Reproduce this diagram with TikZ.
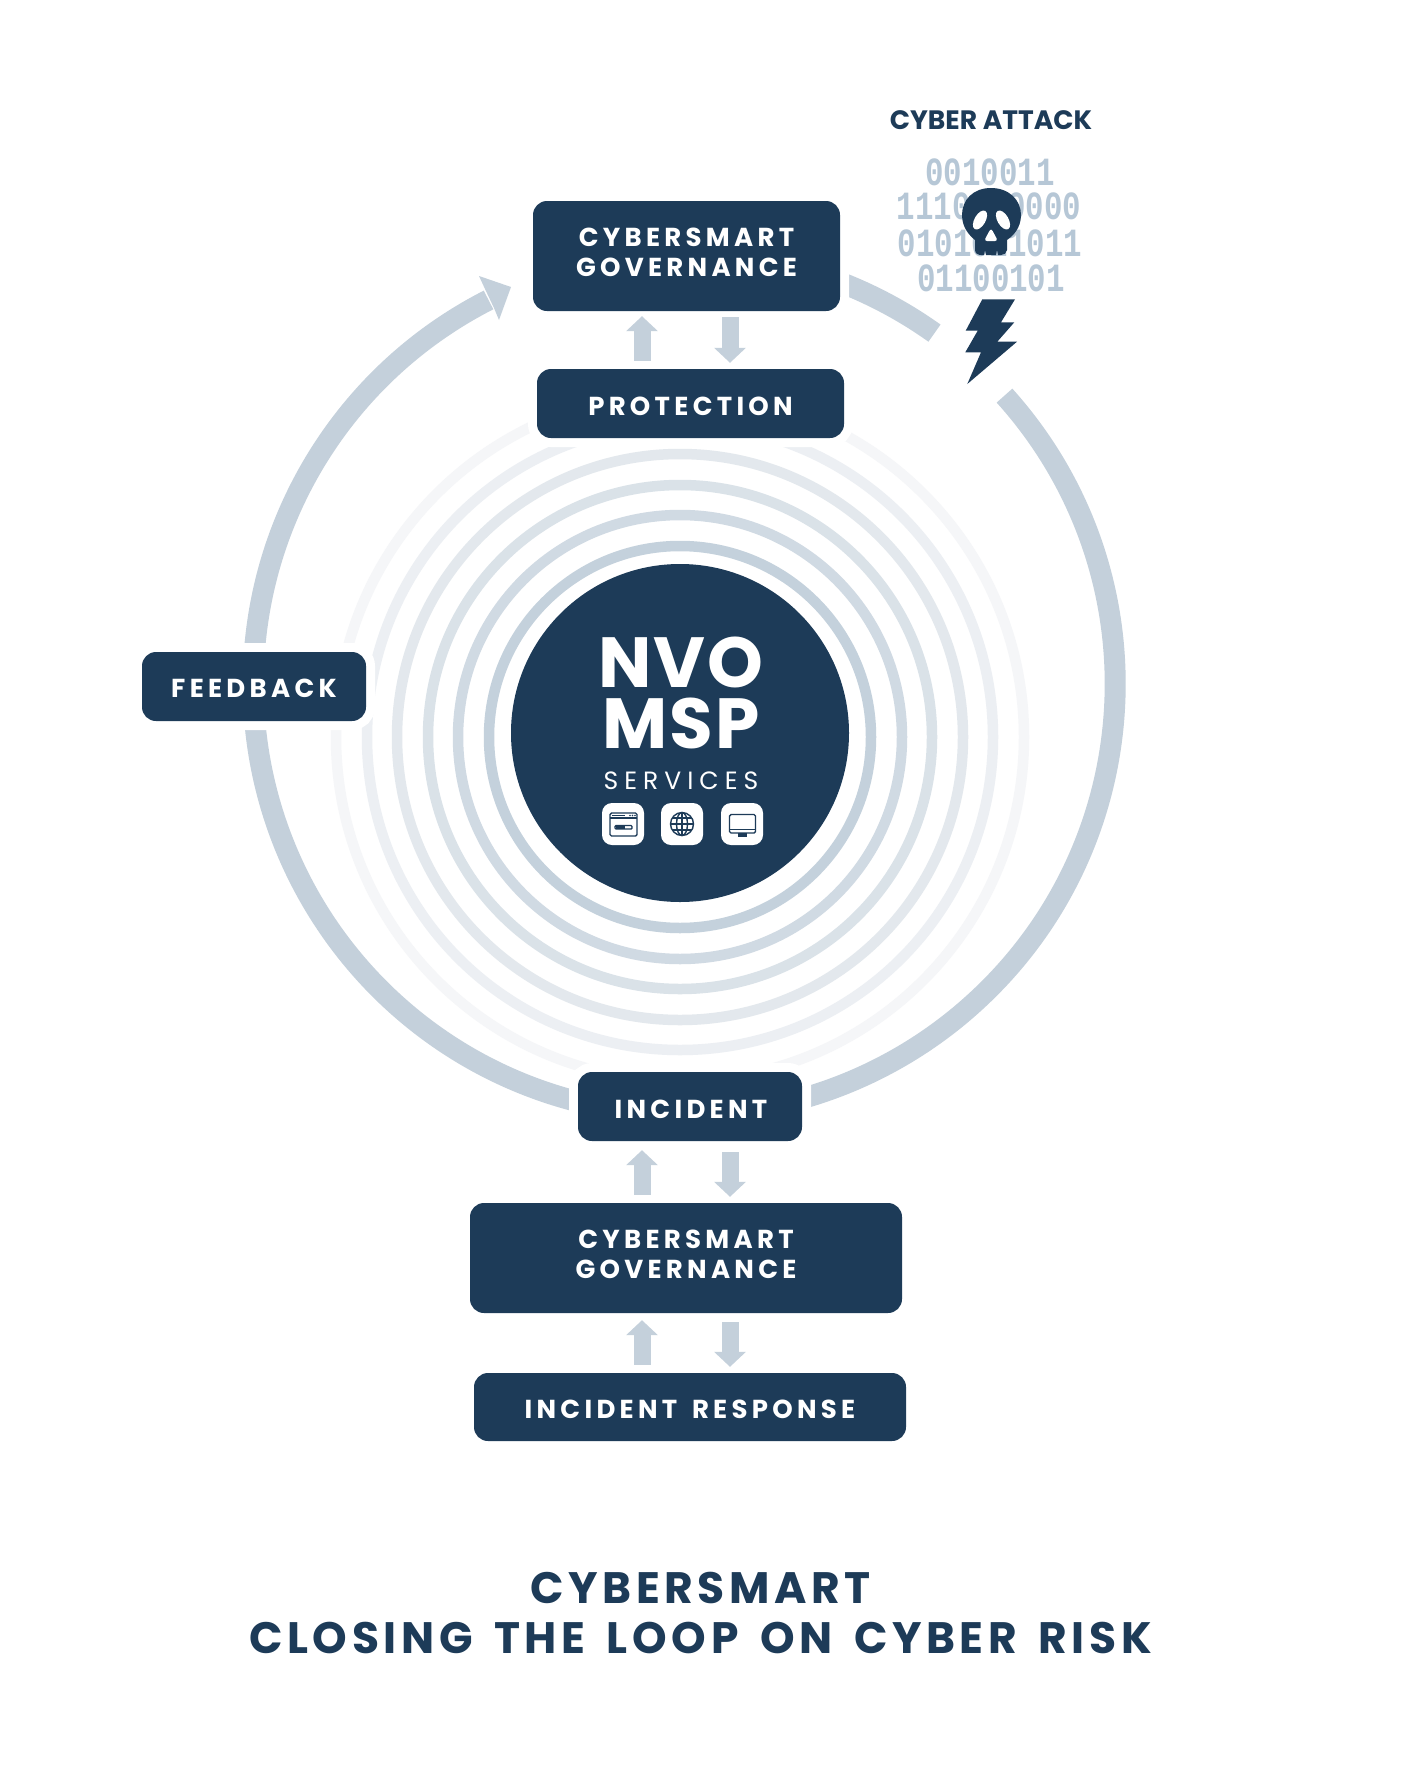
\documentclass[tikz,border=0pt]{standalone}
\usepackage{fontspec}
\usetikzlibrary{arrows.meta,calc}
\setmainfont{Poppins}
\newfontfamily\boxfont[LetterSpace=16.5,WordSpace=1.5]{Poppins}
\newfontfamily\titlefont[LetterSpace=10.5,WordSpace=1.55]{Poppins}
\newfontfamily\servfont[LetterSpace=24]{Poppins}
\newfontfamily\bigfont[LetterSpace=3]{Poppins}
\newfontfamily\binfont[FakeStretch=0.77]{Liberation Mono}
\definecolor{navy}{HTML}{1D3B58}
\definecolor{arcblue}{HTML}{C4D0DB}
\definecolor{binblue}{HTML}{B6C7D6}
\definecolor{ringa}{HTML}{C4D1DC}
\definecolor{ringb}{HTML}{D0DAE3}
\definecolor{ringc}{HTML}{DAE2E8}
\definecolor{ringd}{HTML}{E3E8ED}
\definecolor{ringe}{HTML}{ECEFF3}
\definecolor{ringf}{HTML}{F5F6F8}
\tikzset{
  navybox/.style={fill=navy,rounded corners=14pt,inner sep=0pt,text=white,
    font=\boxfont\bfseries\fontsize{26}{30}\selectfont,text height=18pt,text depth=0pt,
    minimum width=#1,align=center},
  halo/.style={draw=white,line width=18pt,rounded corners=14pt,fill=white},
  bigarc/.style={draw=arcblue,line width=21pt},
  ringline/.style={line width=10.5pt},
  barrow/.style={draw=arcblue,line width=17pt,-{Triangle[width=31pt,length=15pt]}},
  iconbox/.style={fill=white,rounded corners=10pt,minimum width=42pt,minimum height=42pt,inner sep=0pt},
  iconline/.style={draw=navy,line width=1.4pt},
  title/.style={text=navy,inner sep=0pt,font=\titlefont\bfseries\fontsize{44}{50}\selectfont},
  bin/.style={text=binblue,inner sep=0pt,font=\binfont\bfseries\fontsize{40}{40}\selectfont},
  bigtext/.style={text=white,inner sep=0pt,anchor=base,font=\bigfont\bfseries\fontsize{71}{71}\selectfont}
}
\newcommand{\twolines}[2]{\raisebox{3pt}{\begin{tabular}{@{}c@{}}#1\\#2\end{tabular}}}
\begin{document}
\begin{tikzpicture}[x=1pt,y=-1pt]
\path[use as bounding box,fill=white] (0,0) rectangle (1404,1772);
\coordinate (rc) at (680,737);
\coordinate (bc) at (684.2,684);
% rings
\foreach \r/\c in {344/ringf,313/ringe,283/ringd,252/ringc,222/ringb,191/ringa}
  \draw[ringline,draw=\c] (rc) circle[radius=\r pt];
% big loop
\draw[bigarc] ($(bc)+(180:431pt)$) arc[start angle=180,end angle=117,radius=431pt];
\fill[arcblue] (511,287) -- (479,276) -- (485,289) -- (494,308) -- (499,320) -- cycle;
\draw[bigarc] ($(bc)+(180:431pt)$) arc[start angle=180,end angle=260,radius=431pt];
\draw[bigarc] ($(bc)+(42:431pt)$) arc[start angle=42,end angle=-80,radius=431pt];
\draw[bigarc] ($(bc)+(54.5:431pt)$) arc[start angle=54.5,end angle=75,radius=431pt];
% halos
\path[halo] (533,201) rectangle (840,311);
\path[halo] (537,369) rectangle (844,438);
\path[halo] (142,652) rectangle (366,721);
\path[halo] (578,1072) rectangle (802,1141);
% boxes
\node[navybox=307pt,minimum height=110pt] (gt) at (686.5,256) {\twolines{CYBERSMART}{GOVERNANCE}};
\node[navybox=307pt,minimum height=69pt] (prot) at (690.5,403.5) {\raisebox{-2.5pt}{PROTECTION}};
\node[navybox=224pt,minimum height=69pt] (fb) at (254,686.5) {\raisebox{-1.5pt}{FEEDBACK}};
\node[navybox=224pt,minimum height=69pt] (inc) at (690,1106.5) {\hspace{2pt}\raisebox{-2.5pt}{INCIDENT}};
\node[navybox=432pt,minimum height=110pt] (gb) at (686,1258) {\twolines{CYBERSMART}{GOVERNANCE}};
\node[navybox=432pt,minimum height=68pt] (ir) at (690,1407) {\raisebox{-2.5pt}{INCIDENT RESPONSE}};
% block arrows
\coordinate (ua) at (642,0);
\coordinate (da) at (730,0);
\draw[barrow,shorten <=8pt,shorten >=5pt] (prot.north -| ua) -- (gt.south -| ua);
\draw[barrow,shorten <=6pt,shorten >=6pt] (gt.south -| da) -- (prot.north -| da);
\draw[barrow,shorten <=8pt,shorten >=9pt] (gb.north -| ua) -- (inc.south -| ua);
\draw[barrow,shorten <=11pt,shorten >=6pt] (inc.south -| da) -- (gb.north -| da);
\draw[barrow,shorten <=8pt,shorten >=7pt] (ir.north -| ua) -- (gb.south -| ua);
\draw[barrow,shorten <=9pt,shorten >=6pt] (gb.south -| da) -- (ir.north -| da);
% central disc
\fill[navy] (680,733) circle[radius=169pt];
\node[bigtext] (nvo) at (681,687) {NVO};
\node[bigtext] (msp) at (681,748) {MSP};
\node[text=white,inner sep=0pt,anchor=base,font=\servfont\fontsize{25}{25}\selectfont] (serv) at (681,789.5) {SERVICES};
% icons
\node[iconbox] (ic1) at (623,824) {};
\node[iconbox] (ic2) at (682,824) {};
\node[iconbox] (ic3) at (742,824) {};
\draw[iconline,rounded corners=1.5pt] (610,813) rectangle (637,836);
\draw[iconline] (610,818) -- (637,818);
\draw[navy,line width=1.4pt] (612,815.5) -- (625,815.5);
\fill[navy] (630,815.5) circle[radius=0.8pt] (632.5,815.5) circle[radius=0.8pt] (635,815.5) circle[radius=0.8pt];
\draw[iconline,fill=white,rounded corners=1pt] (615,825.5) rectangle (632,829);
\fill[navy] (616,825.5) rectangle (625,829);
\draw[iconline] (682,824) circle[radius=11.5pt];
\draw[iconline] (682,824) ellipse[x radius=5.5pt,y radius=11.5pt];
\draw[iconline] (682,812.5) -- (682,835.5) (670.5,824) -- (693.5,824) (672,818) -- (692,818) (672,830) -- (692,830);
\draw[iconline,rounded corners=1.5pt] (729.5,814.5) rectangle (755.5,833);
\draw[iconline] (729.5,829.5) -- (755.5,829.5);
\fill[navy] (738,833) rectangle (747,836.5);
% cyber attack
\node[text=navy,inner sep=0pt,anchor=base,font=\bfseries\fontsize{26.6}{26.6}\selectfont] (ca) at (991,129) {CYBER ATTACK};
\node[bin] (b1) at (990,172) {0010011};
\node[bin] (b2) at (989,206) {1110010000};
\node[bin] (b3) at (990,243) {0101011011};
\node[bin] (b4) at (991,278) {01100101};
% skull
\fill[navy] (991,188) .. controls (973,188) and (962,200) .. (962,215)
  .. controls (962,228) and (970,236) .. (975,240) -- (975,250)
  .. controls (975,254) and (979,255) .. (981,255) -- (984,255) -- (985,250) -- (986,255) -- (996,255) -- (997,250) -- (998,255) -- (1001,255)
  .. controls (1004,255) and (1007,253) .. (1007,250) -- (1007,240)
  .. controls (1013,236) and (1021,228) .. (1021,215)
  .. controls (1021,200) and (1009,188) .. (991,188) -- cycle;
\fill[white,rotate around={-30:(980,220)}] (980,220) ellipse[x radius=5.5pt,y radius=10.5pt];
\fill[white,rotate around={30:(1003,220)}] (1003,220) ellipse[x radius=5.5pt,y radius=10.5pt];
\fill[white,rounded corners=3pt] (991,228) -- (998,241) -- (984,241) -- cycle;
% lightning
\fill[navy] (982.3,299.3) -- (1015,299.3) -- (1001,322.3) -- (1014.3,322.3) -- (997.3,341.7) -- (1017,341.7) -- (967.3,384) -- (981,352.3) -- (965.3,352.3) -- (977.7,330.7) -- (965.7,330.7) -- cycle;
% title
\node[title,anchor=base] (t1) at (700.5,1603) {CYBERSMART};
\node[title,anchor=base] (t2) at (700.5,1653) {CLOSING THE LOOP ON CYBER RISK};
\end{tikzpicture}
\end{document}
